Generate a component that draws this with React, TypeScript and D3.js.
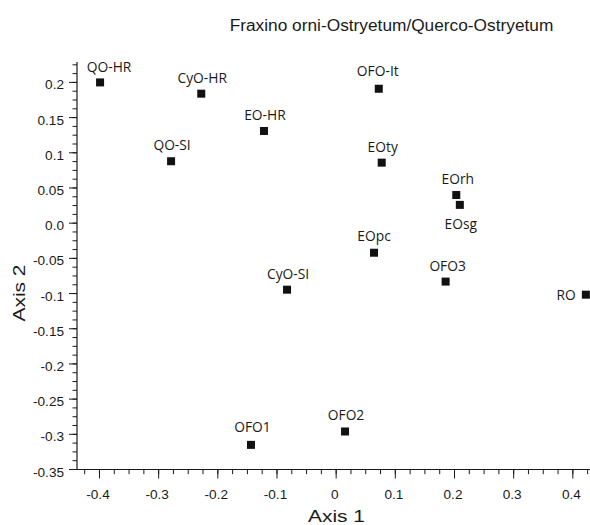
import React from "react";
import * as d3 from "d3";

const names = ["QO-HR", "CyO-HR", "EO-HR", "QO-SI", "CyO-SI", "OFO-It", "EOty", "EOrh", "EOsg", "EOpc", "OFO3", "RO", "OFO1", "OFO2"];
const axis1 = [-0.399, -0.228, -0.122, -0.279, -0.083, 0.072, 0.077, 0.203, 0.209, 0.064, 0.185, 0.422, -0.144, 0.015];
const axis2 = [0.2, 0.184, 0.131, 0.088, -0.0945, 0.191, 0.086, 0.04, 0.026, -0.042, -0.083, -0.1016, -0.315, -0.296];

const xTicks = [-0.4, -0.3, -0.2, -0.1, 0, 0.1, 0.2, 0.3, 0.4];
const xTickLabels = ["-0.4", "-0.3", "-0.2", "-0.1", "0", "0.1", "0.2", "0.3", "0.4"];
const yTicks = [0.2, 0.15, 0.1, 0.05, 0, -0.05, -0.1, -0.15, -0.2, -0.25, -0.3, -0.35];
const yTickLabels = ["0.2", "0.15", "0.1", "0.05", "0.0", "-0.05", "-0.1", "-0.15", "-0.2", "-0.25", "-0.3", "-0.35"];

const title = "Fraxino orni-Ostryetum/Querco-Ostryetum";
const xTitle = "Axis 1";
const yTitle = "Axis 2";

// label placement (style, not data)
const labelPlace: Record<string, { dx: number; dy: number; anchor: string }> = {
  "QO-HR": { dx: 9, dy: -10, anchor: "middle" },
  "OFO-It": { dx: -1, dy: -13, anchor: "middle" },
  "EOsg": { dx: 1, dy: 24, anchor: "middle" },
  "RO": { dx: -10, dy: 5.5, anchor: "end" },
  "OFO1": { dx: 1.5, dy: -12.5, anchor: "middle" },
  "EOpc": { dx: 0, dy: -12, anchor: "middle" },
  "EOrh": { dx: 1.5, dy: -11, anchor: "middle" },
  "OFO3": { dx: 2, dy: -10.5, anchor: "middle" },
};
const defaultPlace = { dx: 1, dy: -11, anchor: "middle" };

export default function App() {
  const W = 590, H = 525;
  const left = 77, right = 590, top = 62, bottom = 469.5;
  const x = d3.scaleLinear().domain([-0.438, 0.429]).range([left, right]);
  const y = d3.scaleLinear().domain([-0.35, 0.229]).range([bottom, top]);

  const xMinor = d3.range(-0.425, 0.43, 0.025).map((v) => Math.round(v * 1000) / 1000);
  const yMinor = d3.range(-0.35, 0.23, 0.0125).map((v) => Math.round(v * 10000) / 10000);

  const tickFont = "Arial, 'Liberation Sans', sans-serif";
  const labelFont = "'Open Sans', 'Noto Sans', sans-serif";
  const col = "#1a1a1a";

  return (
    <svg width={W} height={H} style={{ position: "absolute", left: 0, top: 0, background: "#fff" }}>
      <text x={391.5} y={31} textAnchor="middle" fontFamily={tickFont} fontSize={17.3} fill={col}>{title}</text>

      {/* axes */}
      <line x1={left} x2={left} y1={top} y2={bottom} stroke={col} strokeWidth={1.2} />
      <line x1={left} x2={right} y1={bottom} y2={bottom} stroke={col} strokeWidth={1.2} />

      {yMinor.map((v, i) => (
        <line key={"ym" + i} x1={left - 4.5} x2={left} y1={y(v)} y2={y(v)} stroke={col} strokeWidth={1} />
      ))}
      {yTicks.map((v, i) => (
        <g key={"yt" + i}>
          <line x1={left - 8} x2={left} y1={y(v)} y2={y(v)} stroke={col} strokeWidth={1} />
          <text x={64} y={y(v)} dy={7} textAnchor="end" fontFamily={tickFont} fontSize={13.6} fill={col}>{yTickLabels[i]}</text>
        </g>
      ))}

      {xMinor.map((v, i) => (
        <line key={"xm" + i} x1={x(v)} x2={x(v)} y1={bottom} y2={bottom + 4.7} stroke={col} strokeWidth={1} />
      ))}
      {xTicks.map((v, i) => (
        <g key={"xt" + i}>
          <line x1={x(v)} x2={x(v)} y1={bottom} y2={bottom + 9} stroke={col} strokeWidth={1} />
          <text x={x(v) - 1.5} y={499} textAnchor="middle" fontFamily={tickFont} fontSize={13.6} fill={col}>{xTickLabels[i]}</text>
        </g>
      ))}

      <text x={336.5} y={522} textAnchor="middle" fontFamily={tickFont} fontSize={17} fill={col} textLength={57} lengthAdjust="spacingAndGlyphs">{xTitle}</text>
      <text transform={`translate(25,293) rotate(-90)`} textAnchor="middle" fontFamily={tickFont} fontSize={17} fill={col} textLength={57} lengthAdjust="spacingAndGlyphs">{yTitle}</text>

      {names.map((n, i) => {
        const cx = x(axis1[i]);
        const cy = y(axis2[i]);
        const p = labelPlace[n] || defaultPlace;
        return (
          <g key={n}>
            <rect x={cx - 4} y={cy - 4} width={8} height={8} fill="#111" />
            <text x={cx + p.dx} y={cy + p.dy} textAnchor={p.anchor as any} fontFamily={labelFont} fontSize={13.8} fill={col}>{n}</text>
          </g>
        );
      })}
    </svg>
  );
}
